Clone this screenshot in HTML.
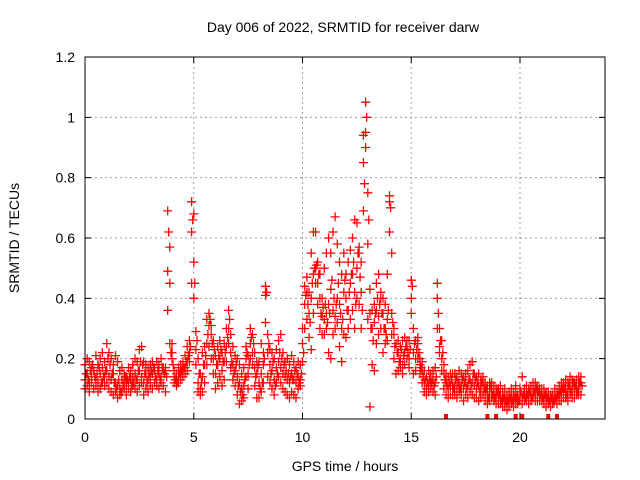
<!DOCTYPE html>
<html><head><meta charset="utf-8"><style>
html,body{margin:0;padding:0;background:#fff;}
svg{display:block;font-family:"Liberation Sans",sans-serif;}
</style></head><body>
<svg id="chart" width="640" height="480" viewBox="0 0 640 480">
<text x="343" y="32" font-size="14" text-anchor="middle">Day 006 of 2022, SRMTID for receiver darw</text>
<text x="345" y="471" font-size="14" text-anchor="middle">GPS time / hours</text>
<text transform="translate(19,238) rotate(-90)" font-size="14" text-anchor="middle">SRMTID / TECUs</text>
<g id="grid"></g>
<g id="ticks"></g>
<g id="pts"></g>
<rect x="85" y="57" width="520" height="362" fill="none" stroke="#000" stroke-width="1"/>
</svg>
<script>
const xTicks = [0, 5, 10, 15, 20];
const yTicks = [0, 0.2, 0.4, 0.6, 0.8, 1, 1.2];
const yTickLabels = ["0", "0.2", "0.4", "0.6", "0.8", "1", "1.2"];
const timeStart = 0;
const timeStep = 0.1;
const seriesA = [
.13,.15,.12,.14,.16,.13,.12,.15,.17,.14,
.16,.14,.13,.15,.12,.11,.10,.13,.12,.11,
.12,.13,.14,.15,.13,.16,.14,.12,.15,.13,
.14,.15,.16,.13,.15,.14,.16,.17,.49,.45,
.20,.14,.13,.14,.15,.16,.17,.19,.22,.45,
.52,.23,.12,.10,.14,.18,.25,.31,.28,.20,
.15,.18,.20,.16,.19,.24,.30,.22,.18,.16,
.14,.12,.10,.11,.20,.15,.25,.22,.17,.15,
.12,.15,.18,.41,.22,.18,.16,.13,.17,.19,
.17,.15,.14,.13,.12,.15,.13,.12,.14,.13,
.25,.38,.42,.35,.40,.48,.50,.45,.40,.34,
.33,.35,.38,.43,.36,.34,.40,.38,.30,.42,
.40,.36,.45,.48,.42,.50,.55,.42,.85,.95,
.75,.35,.30,.32,.36,.34,.40,.35,.30,.33,
.72,.35,.30,.25,.22,.20,.18,.22,.24,.20,
.40,.22,.20,.25,.18,.16,.12,.10,.11,.13,
.13,.12,.40,.24,.20,.15,.12,.10,.11,.11,
.11,.10,.12,.11,.10,.12,.11,.13,.12,.11,
.10,.11,.10,.12,.09,.08,.09,.10,.09,.08,
.07,.08,.06,.07,.05,.06,.07,.06,.08,.07,
.08,.07,.08,.09,.07,.08,.10,.09,.08,.09,
.08,.07,.06,.07,.06,.07,.08,.07,.08,.09,
.09,.10,.09,.11,.10,.09,.10,.11,.12];
const seriesB = [
.10,.11,.09,.12,.10,.11,.09,.10,.12,.11,
.12,.10,.09,.08,.09,.07,.08,.09,.10,.08,
.10,.09,.11,.10,.09,.11,.12,.08,.10,.09,
.11,.10,.12,.11,.10,.12,.11,.09,.36,.25,
.25,.12,.11,.12,.13,.14,.15,.16,.19,.62,
.40,.18,.09,.08,.09,.12,.18,.24,.20,.15,
.10,.12,.14,.11,.13,.19,.25,.17,.13,.11,
.08,.05,.06,.07,.14,.10,.20,.18,.11,.07,
.07,.09,.12,.32,.14,.12,.10,.08,.12,.14,
.12,.10,.09,.08,.07,.09,.08,.07,.10,.11,
.19,.30,.33,.27,.23,.35,.45,.38,.30,.28,
.28,.30,.22,.20,.28,.30,.32,.24,.19,.28,
.27,.30,.33,.36,.30,.40,.38,.30,.69,.90,
.33,.04,.18,.16,.25,.28,.30,.22,.25,.26,
.62,.28,.20,.15,.16,.17,.15,.18,.20,.17,
.35,.15,.16,.20,.15,.12,.09,.08,.09,.10,
.09,.08,.30,.22,.16,.10,.08,.07,.08,.08,
.08,.07,.09,.08,.06,.08,.07,.09,.08,.07,
.07,.06,.07,.08,.06,.05,.06,.07,.06,.05,
.05,.05,.04,.04,.03,.04,.05,.04,.05,.05,
.06,.05,.06,.06,.05,.06,.07,.06,.06,.06,
.06,.05,.04,.05,.04,.05,.06,.05,.06,.06,
.07,.07,.06,.08,.07,.07,.08,.08,.08];
const seriesC = [
.18,.20,.19,.17,.16,.21,.18,.20,.22,.19,
.25,.22,.20,.18,.21,.19,.16,.17,.15,.14,
.17,.16,.18,.20,.19,.23,.24,.19,.18,.17,
.18,.19,.17,.19,.18,.20,.17,.16,.69,.57,
.22,.16,.15,.17,.18,.19,.21,.24,.26,.72,
.68,.29,.20,.15,.22,.24,.33,.35,.31,.26,
.21,.24,.26,.22,.25,.30,.36,.28,.24,.21,
.20,.18,.15,.17,.24,.21,.30,.28,.22,.19,
.19,.25,.22,.44,.28,.23,.22,.20,.23,.26,
.28,.22,.19,.20,.18,.21,.19,.17,.19,.18,
.30,.44,.47,.42,.55,.62,.62,.52,.48,.40,
.50,.55,.60,.55,.62,.67,.58,.52,.48,.55,
.48,.52,.56,.60,.66,.65,.57,.52,.94,1.05,
.58,.43,.36,.38,.45,.48,.42,.40,.38,.48,
.74,.55,.28,.25,.26,.24,.26,.27,.26,.26,
.46,.30,.26,.27,.20,.19,.16,.14,.16,.15,
.16,.17,.45,.30,.26,.18,.15,.14,.15,.15,
.15,.14,.16,.15,.14,.15,.16,.18,.19,.15,
.14,.15,.13,.14,.12,.11,.12,.12,.11,.10,
.10,.11,.09,.10,.08,.09,.10,.09,.11,.08,
.10,.14,.10,.11,.10,.11,.12,.12,.11,.10,
.10,.10,.09,.09,.08,.08,.10,.09,.11,.12,
.12,.13,.12,.14,.13,.12,.13,.14,.14];
const seriesD = [
.15,.13,.16,.18,.14,.15,.17,.12,.14,.16,
.20,.18,.15,.12,.10,.13,.09,.11,.14,.13,
.14,.11,.12,.13,.16,.19,.18,.15,.12,.15,
.16,.17,.14,.16,.13,.17,.15,.14,.62,.22,
.18,.13,.12,.15,.16,.17,.19,.21,.24,.66,
.45,.26,.15,.12,.18,.21,.28,.33,.25,.23,
.18,.21,.23,.19,.22,.27,.33,.19,.15,.18,
.11,.09,.08,.13,.22,.18,.27,.25,.14,.17,
.10,.12,.20,.42,.25,.15,.19,.11,.15,.22,
.20,.18,.16,.15,.14,.13,.16,.15,.12,.15,
.22,.41,.38,.32,.45,.50,.51,.48,.35,.37,
.38,.32,.35,.46,.40,.38,.45,.35,.33,.46,
.36,.42,.48,.52,.38,.55,.47,.36,.78,1.0,
.66,.30,.26,.35,.40,.38,.35,.30,.28,.36,
.70,.32,.24,.22,.19,.23,.21,.24,.22,.23,
.44,.25,.23,.22,.17,.14,.13,.12,.13,.12,
.11,.14,.35,.26,.22,.13,.11,.12,.13,.10,
.13,.12,.10,.13,.12,.10,.13,.11,.15,.13,
.12,.09,.12,.10,.10,.07,.11,.08,.07,.09,
.08,.06,.07,.06,.06,.07,.06,.07,.07,.06,
.09,.08,.07,.08,.09,.07,.09,.10,.09,.08,
.07,.08,.07,.06,.07,.06,.07,.08,.09,.10,
.10,.08,.11,.09,.12,.11,.09,.12,.11];
const zeroTimes = [16.6, 18.5, 18.9, 19.8, 20.1, 21.3, 21.7];

const NS = "http://www.w3.org/2000/svg";
const X0 = 85, X1 = 605, Y0 = 419, Y1 = 57, YMAX = 1.2;
function xPos(t){ return X0 + t * 21.75; }
function yPos(v){ return Y0 - v / YMAX * (Y0 - Y1); }
function mk(tag, attrs, parent){ const e = document.createElementNS(NS, tag); for (const k in attrs) e.setAttribute(k, attrs[k]); parent.appendChild(e); return e; }

const grid = document.getElementById('grid');
const ticks = document.getElementById('ticks');
xTicks.forEach(t => {
  const x = xPos(t);
  if (t > 0) {
    const g = mk('line', {x1:x, x2:x, y1:Y1, y2:Y0, stroke:'#a0a0a0', 'stroke-dasharray':'2,3', 'stroke-width':1}, grid);
    
    
  }
  const tm = mk('path', {d:`M${x},${Y0}v-6M${x},${Y1}v6`, stroke:'#000', 'stroke-width':1}, ticks);
  
  
  const lb = mk('text', {x:x, y:Y0+23, 'font-size':14, 'text-anchor':'middle'}, ticks);
  lb.textContent = String(t);
  
  
});
yTicks.forEach((v, i) => {
  const y = yPos(v);
  if (v > 0 && v < YMAX) {
    const g = mk('line', {x1:X0, x2:X1, y1:y, y2:y, stroke:'#a0a0a0', 'stroke-dasharray':'2,3', 'stroke-width':1}, grid);
    
    
  }
  const tm = mk('path', {d:`M${X0},${y}h6M${X1},${y}h-6`, stroke:'#000', 'stroke-width':1}, ticks);
  
  
  const lb = mk('text', {x:X0-10, y:y+5, 'font-size':14, 'text-anchor':'end'}, ticks);
  lb.textContent = yTickLabels[i];
  
  
});

const pts = document.getElementById('pts');
let d = '';
[seriesA, seriesB, seriesC, seriesD].forEach((s, k) => {
  s.forEach((v, i) => {
    const x = xPos(timeStart + i * timeStep + (k === 3 ? 0.05 : 0)), y = yPos(v);
    d += `M${(x-4.5).toFixed(1)},${y.toFixed(1)}h9M${x.toFixed(1)},${(y-4.5).toFixed(1)}v9`;
  });
});
const path = mk('path', {d:d, stroke:'#ff0000', 'stroke-width':1.3, fill:'none'}, pts);


zeroTimes.forEach(t => {
  const r = mk('rect', {x:xPos(t)-2, y:Y0-5, width:4, height:5, fill:'#ff0000'}, pts);
  
  
});
</script>
</body></html>
